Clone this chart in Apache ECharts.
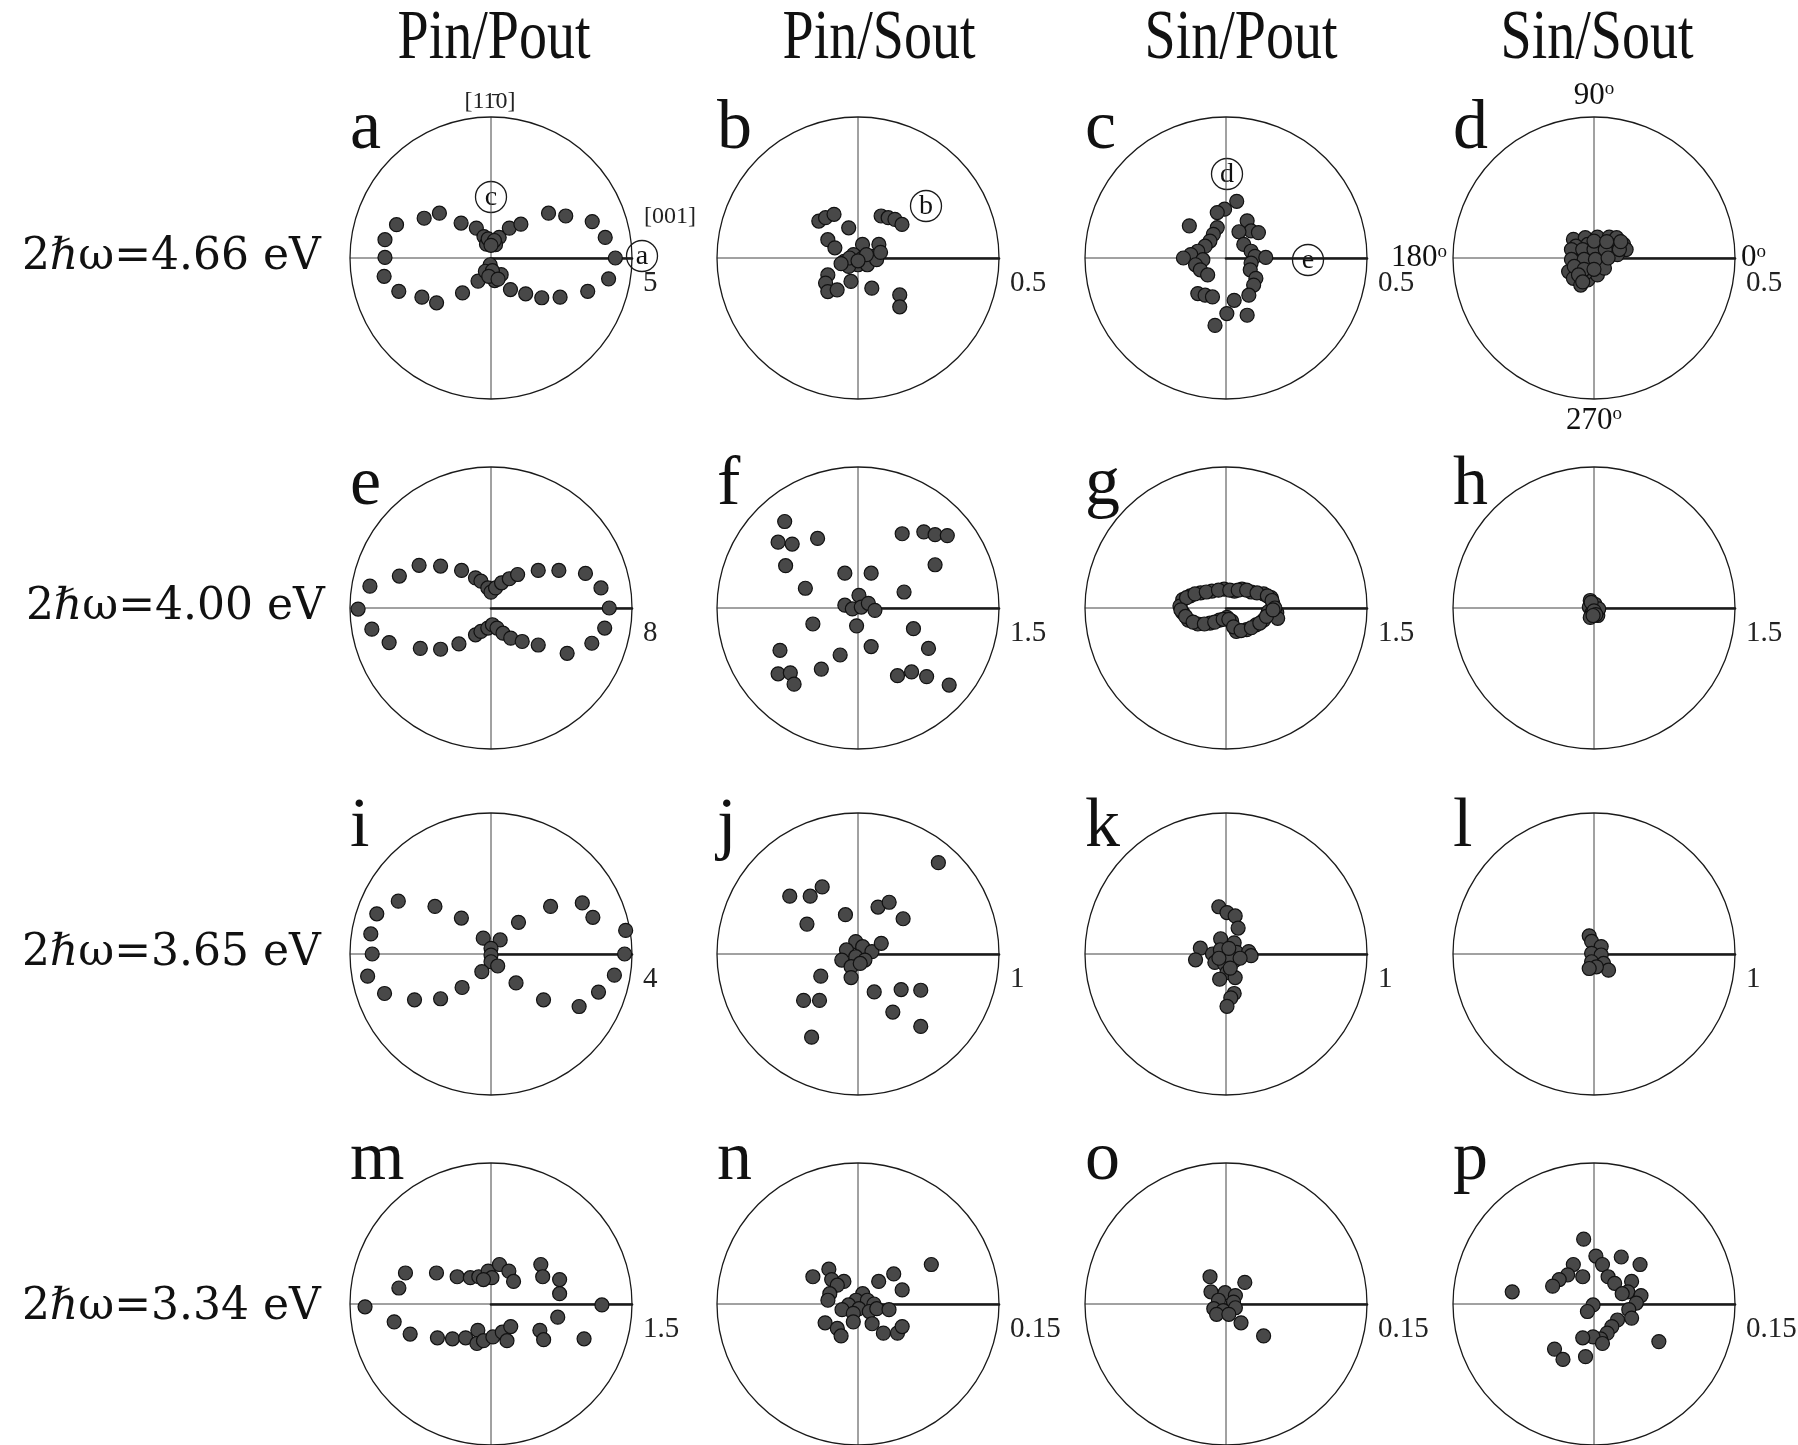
<!DOCTYPE html>
<html>
<head>
<meta charset="utf-8">
<script src="https://cdn.jsdelivr.net/npm/echarts@6/dist/echarts.min.js"></script>
<style>
html,body{margin:0;padding:0;background:#fff;}
#chart{width:1798px;height:1445px;}
</style>
</head>
<body>
<div id="chart"></div>
<script>
// ---------- data ----------
const COL_TITLES = ['Pin/Pout', 'Pin/Sout', 'Sin/Pout', 'Sin/Sout'];
const ROW_LABELS = ['2ℏω=4.66 eV', '2ℏω=4.00 eV', '2ℏω=3.65 eV', '2ℏω=3.34 eV'];
const PANEL_LETTERS = ['a','b','c','d','e','f','g','h','i','j','k','l','m','n','o','p'];
// outer-circle value (radius-axis tick label) of each panel
const SCALES = [5, 0.5, 0.5, 0.5, 8, 1.5, 1.5, 1.5, 4, 1, 1, 1, 1.5, 0.15, 0.15, 0.15];
const ANGLE_TICKS = [0, 90, 180, 270];

// points: [horizontal component, vertical component] in panel units
const PTS_A = [[-3.35,1.18],[-2.37,1.41],[-1.83,1.59],[-1.06,1.24],[-0.52,1.06],[-0.25,0.76],[0,0.61],[0.29,0.73],[-0.16,0.49],[0.16,0.47],[-0.1,0.68],[0.12,0.62],[0,0.45],[0.65,1.06],[1.06,1.2],[2.04,1.59],[2.65,1.49],[3.59,1.29],[4.05,0.73],[4.41,0],[-3.76,0.65],[-3.76,0.02],[-3.79,-0.65],[-3.27,-1.18],[-2.45,-1.39],[-1.93,-1.59],[-1.01,-1.24],[-0.46,-0.82],[-0.03,-0.24],[-0.2,-0.47],[0.36,-0.59],[0.13,-0.8],[0.05,-0.45],[-0.08,-0.65],[0.25,-0.75],[0.69,-1.12],[1.23,-1.27],[1.8,-1.41],[2.45,-1.39],[3.43,-1.18],[4.17,-0.74]];
const PTS_B = [[-0.139,0.131],[-0.115,0.143],[-0.085,0.155],[-0.033,0.107],[0.082,0.149],[0.107,0.143],[0.131,0.137],[0.156,0.119],[-0.107,0.065],[-0.082,0.036],[0.016,0.048],[0.074,0.048],[-0.049,-0.012],[-0.016,0.012],[0.016,0],[0.049,0.006],[0,-0.024],[-0.033,-0.03],[0.033,-0.024],[0.066,-0.006],[-0.03,0],[0.03,0.012],[0,-0.01],[-0.06,-0.02],[0.08,0.02],[-0.107,-0.06],[-0.115,-0.089],[-0.107,-0.119],[-0.074,-0.113],[-0.025,-0.083],[0.049,-0.107],[0.148,-0.131],[0.148,-0.173]];
const PTS_C = [[0.038,0.201],[-0.005,0.173],[-0.031,0.161],[-0.13,0.114],[0.075,0.132],[0.089,0.096],[0.046,0.093],[0.115,0.09],[-0.031,0.108],[-0.045,0.084],[-0.057,0.06],[-0.074,0.042],[-0.1,0.024],[-0.125,0.012],[-0.151,0],[-0.082,-0.006],[-0.108,-0.024],[-0.091,-0.042],[-0.065,-0.06],[0.063,0.048],[0.089,0.024],[0.103,0.006],[0.141,0.002],[0.089,-0.018],[0.086,-0.042],[0.106,-0.072],[0.098,-0.096],[0.081,-0.132],[-0.1,-0.126],[-0.074,-0.132],[-0.048,-0.138],[0.029,-0.15],[0.003,-0.197],[-0.039,-0.239],[0.075,-0.203]];
const PTS_D = [[-0.073,0.066],[-0.031,0.072],[0.012,0.074],[0.054,0.074],[0.08,0.072],[0.105,0.048],[0.114,0.03],[0.071,0.042],[0.029,0.048],[-0.022,0.048],[-0.064,0.042],[-0.056,0.012],[-0.014,0.012],[0.029,0.012],[0.063,0.018],[0.083,0.012],[-0.056,-0.018],[-0.014,-0.024],[0.029,-0.018],[-0.09,-0.048],[-0.073,-0.072],[-0.047,-0.096],[-0.022,-0.078],[0.012,-0.06],[-0.031,-0.054],[0.037,-0.036],[-0.08,0.03],[-0.04,0.03],[0,0.03],[0.04,0.03],[0.09,0.03],[-0.08,-0.005],[-0.035,-0.005],[0.005,-0.005],[0.05,0],[-0.07,-0.03],[-0.035,-0.04],[0,-0.04],[-0.055,-0.06],[-0.04,-0.085],[0,0.06],[0.045,0.058],[0.095,0.058]];
const PTS_E = [[-6.87,1.24],[-5.2,1.81],[-4.08,2.42],[-2.86,2.38],[-1.67,2.13],[-0.88,1.71],[-0.57,1.52],[-0.18,1.14],[0,0.9],[0.26,1.14],[0.6,1.43],[1.04,1.66],[1.51,1.9],[2.68,2.13],[3.85,2.13],[5.36,1.96],[6.24,1.14],[-7.54,-0.06],[6.71,0],[-6.76,-1.2],[-5.78,-1.96],[-4.01,-2.29],[-2.86,-2.34],[-1.82,-2.04],[-0.88,-1.52],[-0.57,-1.33],[-0.18,-1.14],[0.08,-0.95],[0.34,-1.14],[0.68,-1.43],[1.12,-1.71],[1.77,-1.9],[2.68,-2.1],[4.32,-2.57],[5.72,-2.0],[6.45,-1.14]];
const PTS_F = [[-0.78,0.92],[-0.85,0.70],[-0.70,0.68],[-0.43,0.74],[-0.77,0.45],[-0.56,0.21],[-0.14,0.37],[0.14,0.37],[0.47,0.79],[0.70,0.81],[0.82,0.78],[0.95,0.77],[0.82,0.46],[0.49,0.17],[0.01,0.135],[-0.14,0.03],[-0.06,-0.01],[0.035,0.01],[0.11,0.05],[0.18,-0.025],[-0.015,-0.19],[-0.48,-0.17],[-0.83,-0.45],[-0.85,-0.70],[-0.72,-0.69],[-0.68,-0.81],[-0.39,-0.65],[-0.19,-0.50],[0.14,-0.41],[0.59,-0.22],[0.75,-0.43],[0.42,-0.72],[0.57,-0.68],[0.73,-0.73],[0.97,-0.82]];
const PTS_G = [[-0.46,0.09],[-0.38,0.13],[-0.27,0.16],[-0.15,0.18],[-0.02,0.2],[0.09,0.18],[0.17,0.2],[0.27,0.17],[0.4,0.15],[0.48,0.11],[0.50,0.04],[0.54,-0.05],[0.55,-0.11],[-0.49,0.02],[-0.46,-0.05],[-0.40,-0.13],[-0.30,-0.17],[-0.17,-0.16],[-0.07,-0.13],[0.01,-0.1],[0.06,-0.14],[0.11,-0.25],[0.22,-0.23],[0.32,-0.18],[0.4,-0.13],[0.45,-0.04],[-0.42,0.11],[-0.33,0.15],[-0.21,0.17],[-0.08,0.19],[0.04,0.19],[0.13,0.19],[0.22,0.19],[0.33,0.16],[0.44,0.13],[0.49,0.08],[0.52,0.0],[-0.48,-0.02],[-0.43,-0.09],[-0.35,-0.15],[-0.23,-0.17],[-0.12,-0.15],[-0.03,-0.12],[0.03,-0.12],[0.08,-0.2],[0.16,-0.24],[0.27,-0.21],[0.36,-0.16],[0.43,-0.09],[0.5,-0.02]];
const PTS_H = [[-0.04,0.08],[-0.05,0.01],[-0.02,-0.05],[0.04,-0.08],[0.01,0.04],[0.05,-0.01],[-0.04,-0.1],[-0.03,0.06],[0,-0.03],[0.02,-0.07],[-0.01,-0.08]];
const PTS_I = [[-3.24,1.14],[-3.41,0.57],[-2.63,1.50],[-1.59,1.35],[-0.84,1.02],[-0.22,0.45],[0.26,0.40],[0.78,0.90],[1.69,1.35],[2.59,1.45],[2.89,1.04],[3.82,0.67],[-3.37,0],[3.79,0],[0,0.16],[0,-0.03],[0,-0.22],[-3.5,-0.63],[-3.02,-1.12],[-2.17,-1.30],[-1.43,-1.27],[-0.82,-0.95],[-0.26,-0.50],[0.19,-0.34],[0.71,-0.82],[1.49,-1.30],[2.50,-1.49],[3.05,-1.08],[3.50,-0.60]];
const PTS_J = [[0.57,0.648],[-0.484,0.41],[-0.339,0.41],[-0.254,0.476],[-0.362,0.212],[-0.089,0.279],[0.142,0.333],[0.221,0.367],[0.32,0.25],[-0.016,0.088],[-0.082,0.029],[0.033,0.052],[0.099,0.017],[0.165,0.076],[-0.016,-0.019],[-0.115,-0.043],[0.049,-0.043],[-0.049,-0.09],[0.016,-0.067],[-0.049,-0.167],[-0.264,-0.157],[-0.386,-0.329],[-0.273,-0.329],[-0.329,-0.59],[0.115,-0.269],[0.306,-0.252],[0.445,-0.257],[0.247,-0.412],[0.445,-0.514]];
const PTS_K = [[-0.051,0.335],[0.007,0.294],[0.065,0.27],[0.086,0.184],[-0.038,0.108],[0.058,0.079],[-0.182,0.041],[-0.216,-0.041],[-0.096,0],[-0.01,0.012],[0.075,0.012],[0.161,0.017],[0.178,-0.012],[-0.079,-0.06],[-0.01,-0.072],[0.058,-0.048],[0.007,-0.132],[-0.045,-0.179],[0.065,-0.167],[0.058,-0.28],[0.034,-0.311],[0.007,-0.371],[-0.04,0.03],[0.03,-0.02],[0.02,0.04],[-0.05,-0.03],[0.1,-0.03],[0.03,-0.1]];
const PTS_L = [[-0.034,0.129],[-0.017,0.089],[0.051,0.053],[-0.017,0.005],[0.051,-0.007],[-0.017,-0.055],[0.068,-0.067],[0.103,-0.115],[0.017,-0.091],[-0.034,-0.103]];
const PTS_M = [[-0.91,0.33],[-0.98,0.17],[-0.58,0.33],[-0.36,0.29],[-0.22,0.28],[-0.13,0.29],[-0.03,0.35],[0.09,0.42],[0.19,0.35],[0.24,0.24],[0.01,0.28],[-0.08,0.26],[0.53,0.42],[0.55,0.29],[0.73,0.26],[0.73,0.11],[-1.34,-0.03],[1.18,-0.01],[-1.03,-0.19],[-0.86,-0.32],[-0.57,-0.36],[-0.41,-0.37],[-0.27,-0.36],[-0.14,-0.28],[-0.15,-0.42],[-0.08,-0.39],[0.02,-0.35],[0.12,-0.30],[0.21,-0.24],[0.17,-0.39],[0.52,-0.28],[0.56,-0.38],[0.71,-0.14],[0.99,-0.37]];
const PTS_N = [[0.078,0.042],[-0.048,0.029],[-0.031,0.037],[-0.028,0.026],[-0.015,0.024],[-0.022,0.020],[-0.030,0.011],[-0.032,0.004],[0.022,0.024],[0.038,0.032],[0.047,0.015],[0.005,0.011],[-0.002,0.004],[0.010,0.004],[-0.010,-0.001],[0.017,0],[-0.017,-0.006],[0.001,-0.005],[-0.005,-0.010],[0.012,-0.008],[0.020,-0.005],[0.033,-0.006],[-0.035,-0.020],[-0.022,-0.026],[-0.018,-0.034],[-0.005,-0.019],[0.015,-0.021],[0.027,-0.031],[0.042,-0.031],[0.047,-0.024]];
const PTS_O = [[-0.017,0.029],[-0.016,0.013],[0.020,0.023],[-0.001,0.012],[0.010,0.009],[-0.008,0.004],[0.008,0.002],[-0.013,-0.005],[-0.003,-0.007],[0.010,-0.004],[-0.010,-0.011],[0.003,-0.011],[0.016,-0.020],[0.040,-0.034]];
const PTS_P = [[-0.011,0.069],[0.029,0.050],[0.049,0.042],[0.002,0.051],[0.009,0.042],[-0.022,0.042],[-0.028,0.031],[-0.037,0.026],[-0.044,0.019],[-0.012,0.029],[0.015,0.029],[0.022,0.022],[0.040,0.024],[0.036,0.013],[0.030,0.011],[-0.087,0.013],[0.050,0.009],[0.045,0.001],[-0.001,-0.001],[-0.007,-0.008],[0.037,-0.006],[0.040,-0.015],[0.025,-0.017],[0.019,-0.024],[0.014,-0.031],[0.007,-0.037],[-0.001,-0.035],[-0.012,-0.036],[0.009,-0.042],[-0.042,-0.048],[-0.033,-0.059],[-0.009,-0.056],[0.069,-0.040]];
const POINTS = [PTS_A,PTS_B,PTS_C,PTS_D,PTS_E,PTS_F,PTS_G,PTS_H,PTS_I,PTS_J,PTS_K,PTS_L,PTS_M,PTS_N,PTS_O,PTS_P];

// ---------- layout ----------
const COL_X = [491, 858, 1226, 1594];
const ROW_Y = [258, 608, 954, 1304];
const R = 141;
const LETTER_DY = [48, 54, 50, 33];
const SERIF = 'Liberation Serif';

const option = {
  animation: false,
  backgroundColor: '#ffffff',
  polar: [], angleAxis: [], radiusAxis: [],
  grid: [], xAxis: [], yAxis: [], series: [], graphic: []
};

POINTS.forEach((pts, i) => {
  const r = Math.floor(i / 4), c = i % 4;
  const cx = COL_X[c], cy = ROW_Y[r];
  const S = SCALES[i];
  option.polar.push({ center: [cx, cy], radius: R });
  const isD = i === 3;
  option.angleAxis.push({
    polarIndex: i, type: 'value', min: 0, max: 360, interval: 90,
    startAngle: 0, clockwise: false,
    axisLine: { show: true, lineStyle: { color: '#1a1a1a', width: 1.3 } },
    axisTick: { show: false },
    axisLabel: {
      show: isD, margin: 6, color: '#111',
      formatter: v => ANGLE_TICKS.indexOf(v) >= 0 ? '{n|' + v + '}{o|o}' : '',
      rich: {
        n: { fontFamily: SERIF, fontSize: 31, color: '#111' },
        o: { fontFamily: SERIF, fontSize: 19, color: '#111', verticalAlign: 'top' }
      }
    },
    splitLine: { show: true, lineStyle: { color: '#444', width: 1 } }
  });
  option.radiusAxis.push({
    polarIndex: i, type: 'value', min: 0, max: S, interval: S,
    axisLine: { show: true, lineStyle: { color: '#1a1a1a', width: 2.6 } },
    axisTick: { show: false },
    splitLine: { show: false },
    axisLabel: {
      show: true, margin: -11, align: 'left', verticalAlign: 'top',
      padding: [0, 0, 0, 11],
      fontFamily: SERIF, fontSize: 29, color: '#222',
      formatter: v => (v === 0 ? '' : String(S))
    }
  });
  option.grid.push({ left: cx - R, top: cy - R, width: 2 * R, height: 2 * R });
  option.xAxis.push({ gridIndex: i, type: 'value', min: -S, max: S, show: false });
  option.yAxis.push({ gridIndex: i, type: 'value', min: -S, max: S, show: false });
  option.series.push({
    type: 'scatter', xAxisIndex: i, yAxisIndex: i, data: pts,
    symbolSize: 14, z: 5,
    itemStyle: { color: '#484848', borderColor: '#111', borderWidth: 1.2, opacity: 1 }
  });
  option.graphic.push({
    type: 'text', x: cx - R, y: cy - R + LETTER_DY[r], z: 50,
    style: { text: PANEL_LETTERS[i], font: '70px "' + SERIF + '"', fill: '#111', textAlign: 'left', textVerticalAlign: 'bottom' }
  });
});

// column titles
const TITLE_X = [494, 879, 1241, 1597];
COL_TITLES.forEach((t, c) => {
  option.graphic.push({
    type: 'text', x: TITLE_X[c], y: 40, scaleX: 0.8, z: 50,
    style: { text: t, font: '70px "' + SERIF + '"', fill: '#111', textAlign: 'center', textVerticalAlign: 'middle' }
  });
});
// row labels
const ROW_LABEL_X = [22, 26, 22, 22];
const ROW_LABEL_Y = [258, 608, 954, 1308];
ROW_LABELS.forEach((t, r) => {
  option.graphic.push({
    type: 'text', x: ROW_LABEL_X[r], y: ROW_LABEL_Y[r], z: 50,
    style: { text: t, font: '44px "DejaVu Serif"', fill: '#111', textAlign: 'left', textVerticalAlign: 'middle' }
  });
});
// crystal-direction annotations in panel a
option.graphic.push({
  type: 'text', x: 490, y: 102, z: 50,
  style: { text: '[11\u03040]', font: '24px "' + SERIF + '"', fill: '#222', textAlign: 'center', textVerticalAlign: 'middle' }
});
option.graphic.push({
  type: 'text', x: 670, y: 217, z: 50,
  style: { text: '[001]', font: '24px "' + SERIF + '"', fill: '#222', textAlign: 'center', textVerticalAlign: 'middle' }
});
// circled markers
const MARKS = [['c', 491, 197], ['a', 642, 256], ['b', 926, 206], ['d', 1227, 174], ['e', 1308, 260]];
MARKS.forEach(([t, x, y]) => {
  option.graphic.push({
    type: 'group', x: x, y: y, z: 60,
    children: [
      { type: 'circle', shape: { cx: 0, cy: 0, r: 15.5 }, style: { fill: '#fff', stroke: '#1a1a1a', lineWidth: 1.3 } },
      { type: 'text', style: { text: t, x: 0, y: 1, font: '28px "' + SERIF + '"', fill: '#111', textAlign: 'center', textVerticalAlign: 'middle' } }
    ]
  });
});

const chart = echarts.init(document.getElementById('chart'), null, { renderer: 'canvas' });
chart.setOption(option);
</script>
</body>
</html>
